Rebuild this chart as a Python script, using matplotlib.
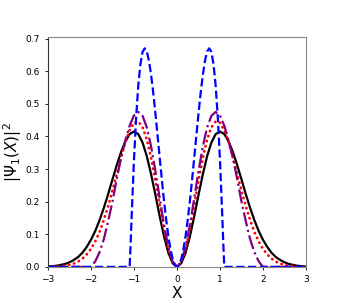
import numpy as np
import matplotlib
matplotlib.use('Agg')
import matplotlib.pyplot as plt

# values read for x >= 0, curves are symmetric about x = 0
x_half = [0.0, 0.1, 0.2, 0.3, 0.4, 0.5, 0.6, 0.7, 0.8, 0.9, 1.0,
          1.1, 1.2, 1.3, 1.4, 1.5, 1.6, 1.7, 1.8, 1.9, 2.0,
          2.1, 2.2, 2.3, 2.4, 2.5, 2.6, 2.7, 2.8, 2.9, 3.0]
black_half = [0, .011, .043, .093, .154, .220, .283, .339, .381, .407, .415,
              .407, .385, .352, .312, .268, .223, .181, .143, .110, .083,
              .061, .043, .030, .021, .014, .009, .006, .0035, .002, .001]
red_half = [0, .014, .054, .114, .187, .263, .333, .390, .428, .446, .442,
            .419, .382, .336, .285, .234, .186, .144, .107, .078, .055,
            .038, .025, .016, .010, .006, .004, .002, .001, .0007, .0004]
purple_half = [0, .016, .061, .128, .209, .293, .368, .427, .463, .475, .464,
               .433, .388, .334, .270, .200, .140, .085, .045, .017, 0,
               0, 0, 0, 0, 0, 0, 0, 0, 0, 0]
xb_half = [0.0, 0.05, 0.1, 0.15, 0.2, 0.25, 0.3, 0.35, 0.4, 0.45, 0.5,
           0.55, 0.6, 0.65, 0.7, 0.75, 0.8, 0.85, 0.9, 0.95, 1.0,
           1.05, 1.08, 1.1, 3.0]
blue_half = [0, .006, .024, .054, .094, .144, .201, .265, .333, .401, .469,
             .532, .587, .631, .660, .670, .659, .621, .555, .457, .327,
             .167, .062, 0, 0]


def mirror(x, y):
    x = np.array(x)
    y = np.array(y)
    return (np.concatenate([-x[::-1], x[1:]]),
            np.concatenate([y[::-1], y[1:]]))


fig = plt.figure(figsize=(3.4, 3.05), dpi=100)
ax = fig.add_axes([0.141, 0.125, 0.759, 0.754])

xx, yy = mirror(x_half, black_half)
ax.plot(xx, yy, color='black', lw=1.6)
xx, yy = mirror(x_half, red_half)
ax.plot(xx, yy, color='red', lw=2.0, linestyle=(0, (0.1, 1.8)),
        dash_capstyle='round')
xx, yy = mirror(x_half, purple_half)
ax.plot(xx, yy, color='purple', lw=1.6, linestyle='dashdot')
xx, yy = mirror(xb_half, blue_half)
ax.plot(xx, yy, color='blue', lw=1.6, linestyle='dashed')

ax.set_xlim(-3, 3)
ax.set_ylim(0, 0.705)
ax.set_xticks([-3, -2, -1, 0, 1, 2, 3])
ax.set_yticks([0.0, 0.1, 0.2, 0.3, 0.4, 0.5, 0.6, 0.7])
ax.tick_params(labelsize=6.5, length=2.5, width=0.6)
for s in ['top', 'right', 'bottom']:
    ax.spines[s].set_color('#888888')
ax.spines['left'].set_color('#333333')
ax.set_xlabel('X', fontsize=11, labelpad=1)
ax.set_ylabel(r'$|\Psi_1(X)|^2$', fontsize=11, labelpad=1)

fig.savefig('out.png', dpi=100)
